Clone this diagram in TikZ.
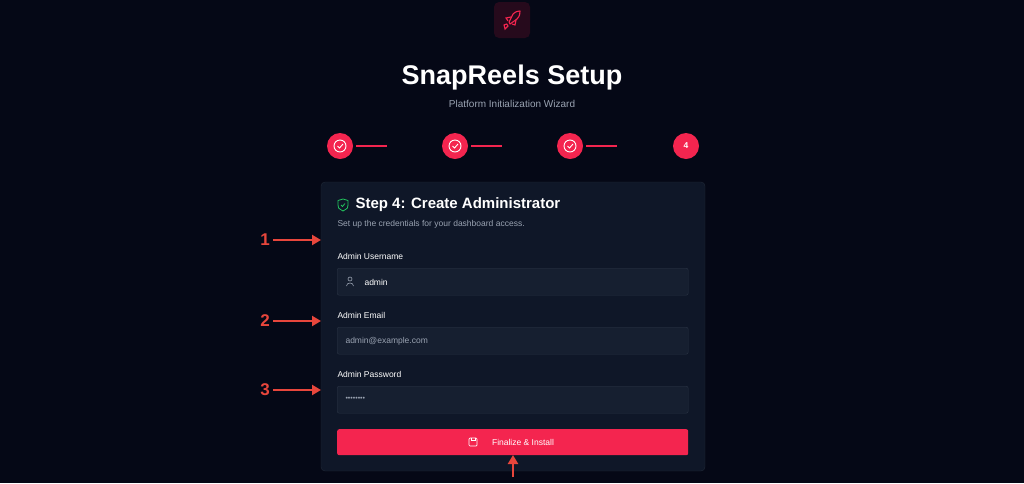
\documentclass[tikz,border=0pt]{standalone}
\usepackage{fontspec}
\setmainfont{Liberation Sans}
\usetikzlibrary{arrows.meta,positioning,calc}
\definecolor{bgdark}{HTML}{050816}
\definecolor{carddark}{HTML}{0F1728}
\definecolor{cardedge}{HTML}{1F2937}
\definecolor{fielddark}{HTML}{161F30}
\definecolor{fieldedge}{HTML}{2A3444}
\definecolor{snappink}{HTML}{F4254F}
\definecolor{logobg}{HTML}{260A1C}
\definecolor{graytext}{HTML}{9AA3B2}
\definecolor{annored}{HTML}{E8463C}
\definecolor{shieldgreen}{HTML}{22C55E}
\tikzset{
  field/.style={draw=fieldedge, fill=fielddark, rounded corners=2pt, minimum width=351pt, minimum height=27pt, anchor=north west},
  fieldlabel/.style={anchor=west, text=white, font=\fontsize{8.5}{10}\selectfont},
  stepdot/.style={circle, fill=snappink, minimum size=26pt, inner sep=0pt, text=white, font=\bfseries\fontsize{8.5}{10}\selectfont},
  annotag/.style={text=annored, font=\bfseries\fontsize{17}{19}\selectfont},
  annoarrow/.style={annored, line width=2.2pt, -{Triangle[length=9pt,width=10pt]}}
}
\begin{document}
\begin{tikzpicture}[x=1pt,y=-1pt]
  % Hintergrund
  \fill[bgdark] (0,0) rectangle (1024,483);
  \useasboundingbox (0,0) rectangle (1024,483);

  % Logo
  \node[fill=logobg, rounded corners=5pt, minimum size=36pt] (logo) at (512,20) {};
  \draw[snappink, line width=1.1pt, line join=round] (509,22) -- (513,14) .. controls (516,11) and (519,11) .. (520,11)
    .. controls (520,13) and (520,16) .. (517,19) -- (510,24) -- cycle;
  \draw[snappink, line width=1.1pt] (516,20) -- (515,25) -- (512,24);
  \draw[snappink, line width=1.1pt] (511,17) -- (506,18) -- (508,21);
  \draw[snappink, line width=1.1pt] (505,29) -- (504,25) .. controls (506,23) and (508,24) .. (508,26) -- cycle;

  % Titel
  \node[text=white, font=\bfseries\fontsize{27}{30}\selectfont] (title) at (512,78) {SnapReels Setup};
  \node[text=graytext, font=\fontsize{10}{12}\selectfont] (subtitle) at (512,104) {Platform Initialization Wizard};

  % Schritte
  \foreach \i/\x in {1/340,2/455,3/570}{
    \node[stepdot] (s\i) at (\x,146) {};
    \draw[white, line width=0.9pt] (s\i) circle (6pt);
    \draw[white, line width=0.9pt] ($(s\i)+(-2.5,0)$) -- ++(2,2) -- ++(3.5,-4);
    \draw[snappink, line width=2.5pt] (\x+16,146) -- (\x+47,146);
  }
  \node[stepdot] (s4) at (686,146) {4};

  % Karte
  \draw[cardedge, fill=carddark, rounded corners=4pt] (321,182) rectangle (705,471);
  \draw[shieldgreen, line width=0.8pt, line join=round] (343,199) -- (348,200.5) -- (348,205) .. controls (348,208) .. (343,211) .. controls (338,208) .. (338,205) -- (338,200.5) -- cycle;
  \draw[shieldgreen, line width=0.8pt] (341,205) -- (342.5,206.5) -- (345,203.5);
  \node[anchor=west, text=white, font=\bfseries\fontsize{15}{17}\selectfont] (head) at (352,205) {Step 4: Create Administrator};
  \node[anchor=west, text=graytext, font=\fontsize{8.5}{10}\selectfont] (desc) at (334,224) {Set up the credentials for your dashboard access.};

  % Felder
  \node[fieldlabel] (lbluser) at (334,256) {Admin Username};
  \node[field] (user) at (337,268) {};
  \draw[graytext, line width=0.6pt] (350,279) circle (2pt) (346.5,286) .. controls (346.5,282) and (353.5,282) .. (353.5,286);
  \node[anchor=west, text=white, font=\fontsize{8.5}{10}\selectfont] at (361,282) {admin};

  \node[fieldlabel] (lblmail) at (334,315) {Admin Email};
  \node[field] (mail) at (337,327) {};
  \node[anchor=west, text=graytext, font=\fontsize{8.5}{10}\selectfont] at (342,341) {admin@example.com};

  \node[fieldlabel] (lblpass) at (334,374) {Admin Password};
  \node[field] (pass) at (337,386) {};
  \node[anchor=west, text=graytext, font=\fontsize{7}{8}\selectfont] at (342,399) {••••••••};

  % Knopf
  \node[fill=snappink, rounded corners=2pt, minimum width=351pt, minimum height=26pt, anchor=north west] (btn) at (337,429) {};
  \node[text=white, font=\fontsize{8.5}{10}\selectfont] (btntext) at (523,442) {Finalize \& Install};
  \draw[white, line width=0.7pt, rounded corners=1pt] (469,438) rectangle (477,446);
  \draw[white, line width=0.7pt] (471,438) -- (471,440.5) -- (475,440.5) -- (475,438);

  % Markierungen
  \node[annotag] (m1) at (265,240) {1};
  \node[annotag] (m2) at (265,321) {2};
  \node[annotag] (m3) at (265,390) {3};
  \coordinate (t1) at (321,240);
  \coordinate (t2) at (321,321);
  \coordinate (t3) at (321,390);
  \draw[annoarrow] (m1) -- (t1);
  \draw[annoarrow] (m2) -- (t2);
  \draw[annoarrow] (m3) -- (t3);
  \coordinate (b0) at (513,477);
  \coordinate (b1) at (513,455);
  \draw[annoarrow] (b0) -- (b1);
\end{tikzpicture}
\end{document}
